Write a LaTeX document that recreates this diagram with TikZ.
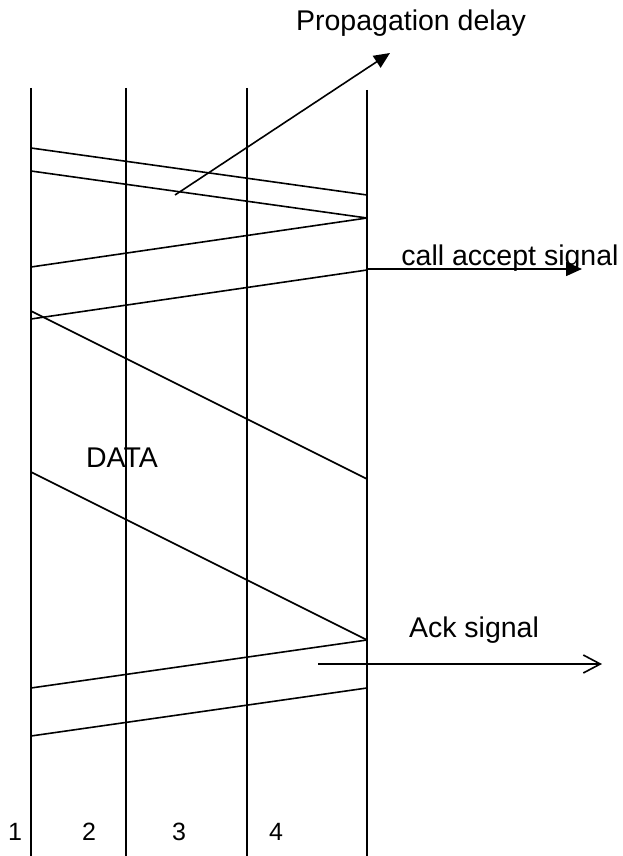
\documentclass[tikz,border=0pt]{standalone}
\usepackage{fontspec}
\setmainfont{Liberation Sans}
\usetikzlibrary{arrows.meta}
\begin{document}
\begin{tikzpicture}[x=1pt,y=-1pt,line width=1.6pt,
  lbl/.style={inner sep=0pt,anchor=base,font=\fontsize{28.5}{32}\selectfont},
  num/.style={inner sep=0pt,anchor=base,font=\fontsize{25}{30}\selectfont},
  filledarrow/.style={-{Triangle[length=16pt,width=14pt]}},
  openarrow/.style={-{Straight Barb[length=17pt,width=18pt,line width=1.6pt]}}]
\useasboundingbox (0,0) rectangle (623,856);
% lifelines
\coordinate (L1t) at (31,88);  \coordinate (L1b) at (31,856);
\coordinate (L2t) at (126,88); \coordinate (L2b) at (126,856);
\coordinate (L3t) at (247,88); \coordinate (L3b) at (247,856);
\coordinate (L4t) at (367,90); \coordinate (L4b) at (367,856);
\draw (L1t) -- (L1b);
\draw (L2t) -- (L2b);
\draw (L3t) -- (L3b);
\draw (L4t) -- (L4b);
% message end points
\coordinate (a1) at (31,148);  \coordinate (a2) at (367,195);
\coordinate (b1) at (31,171);  \coordinate (b2) at (367,218);
\coordinate (c1) at (31,267);
\coordinate (d1) at (31,319);  \coordinate (d2) at (367,270);
\coordinate (e1) at (31,311);  \coordinate (e2) at (367,479);
\coordinate (f1) at (31,472);  \coordinate (f2) at (367,640);
\coordinate (g1) at (31,688);
\coordinate (h1) at (31,736);  \coordinate (h2) at (367,688);
\draw (a1) -- (a2);
\draw (b1) -- (b2);
\draw (c1) -- (b2);
\draw (d1) -- (d2);
\draw (e1) -- (e2);
\draw (f1) -- (f2);
\draw (g1) -- (f2);
\draw (h1) -- (h2);
% annotation arrows
\coordinate (pdtail) at (175,195); \coordinate (pdtip) at (390,53);
\draw[filledarrow] (pdtail) -- (pdtip);
\coordinate (castart) at (367,269); \coordinate (catip) at (582,269);
\draw[filledarrow] (castart) -- (catip);
\coordinate (ackstart) at (318,664); \coordinate (acktip) at (602,664);
\draw[openarrow] (ackstart) -- (acktip);
% labels
\node[lbl] (pd) at (411,31) {Propagation delay};
\node[lbl] (ca) at (510,265) {call accept signal};
\node[lbl] (data) at (122,467) {DATA};
\node[lbl] (ack) at (474,637) {Ack signal};
\node[num] (n1) at (15,840) {1};
\node[num] (n2) at (89,840) {2};
\node[num] (n3) at (179,840) {3};
\node[num] (n4) at (276,840) {4};
\end{tikzpicture}
\end{document}
